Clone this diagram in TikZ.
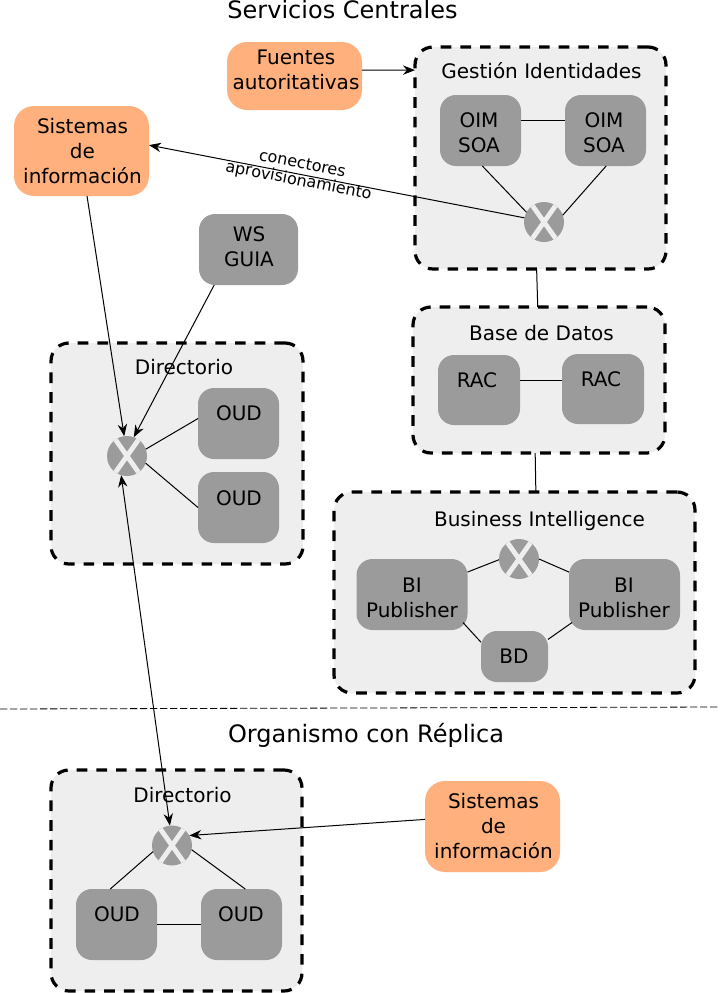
\documentclass[tikz,border=0pt]{standalone}
\usepackage{fontspec}
\setmainfont{DejaVu Sans}
\definecolor{panelfill}{HTML}{EEEEEE}
\definecolor{srvfill}{HTML}{9B9B9B}
\definecolor{srcfill}{HTML}{FFB07C}
\usetikzlibrary{arrows.meta}
\tikzset{
  x=0.75pt,y=-0.75pt,
  panel/.style={draw=black,fill=panelfill,line width=2.4pt,dash pattern=on 8pt off 6.75pt,rounded corners=13.5pt,outer sep=0pt,inner sep=0pt},
  srv/.style={fill=srvfill,rounded corners=12pt,outer sep=0pt,inner sep=0pt},
  src/.style={fill=srcfill,rounded corners=15pt,outer sep=0pt,inner sep=0pt},
  txt/.style={inner sep=0pt,outer sep=0pt,align=center,font=\fontsize{15}{18.75}\selectfont,text=black},
  ttl/.style={inner sep=0pt,outer sep=0pt,font=\fontsize{18}{21}\selectfont,text=black},
  hdr/.style={inner sep=0pt,outer sep=0pt,font=\fontsize{15}{18}\selectfont,text=black},
  small/.style={inner sep=0pt,outer sep=0pt,font=\fontsize{12}{14}\selectfont,text=black,rotate=-11},
  sw/.style={circle,fill=srvfill,minimum size=30pt,inner sep=0pt,outer sep=0pt,
    path picture={
      \draw[panelfill,line width=3.6pt] ([shift={(-12pt,-17pt)}]path picture bounding box.center) -- ([shift={(12pt,17pt)}]path picture bounding box.center);
      \draw[panelfill,line width=3.6pt] ([shift={(12pt,-17pt)}]path picture bounding box.center) -- ([shift={(-12pt,17pt)}]path picture bounding box.center);
    }},
  link/.style={draw=black,line width=0.75pt},
  arr/.style={link,-{Stealth[length=9pt,width=7pt]}},
  darr/.style={link,{Stealth[length=9pt,width=7pt]}-{Stealth[length=9pt,width=7pt]}},
  sep/.style={draw=black,line width=0.6pt,dash pattern=on 5.5pt off 2pt},
}
\begin{document}
\begin{tikzpicture}
\useasboundingbox (0,0) rectangle (720,993);
% panels
\node[panel,minimum width=188.25pt,minimum height=166.5pt] (gest) at (540.5,158) {};
\node[panel,minimum width=189pt,minimum height=109.5pt] (base) at (539,380) {};
\node[panel,minimum width=270.75pt,minimum height=150.75pt] (bi) at (514.5,592.5) {};
\node[panel,minimum width=189pt,minimum height=165.75pt] (dir) at (177,453.5) {};
\node[panel,minimum width=188.25pt,minimum height=165.75pt] (dirb) at (176.5,880.5) {};
% titles
\node[ttl] (t1) at (342.5,10) {Servicios Centrales};
\node[ttl] (t2) at (366,735.5) {Organismo con Réplica};
\node[hdr] (h1) at (541.5,71) {Gestión Identidades};
\node[hdr] (h2) at (541.5,333) {Base de Datos};
\node[hdr] (h3) at (539.5,521) {Business Intelligence};
\node[hdr] (h4) at (184,367) {Directorio};
\node[hdr] (h5) at (182.5,795) {Directorio};
% sources
\node[src,minimum width=101.25pt,minimum height=51pt] (fuentes) at (294.5,76) {};
\node[txt] (fuentest) at (296,70) {Fuentes\\autoritativas};
\node[src,minimum width=101.25pt,minimum height=67.5pt] (sis1) at (81.5,151) {};
\node[txt] (sis1t) at (82.5,151) {Sistemas\\de\\información};
\node[src,minimum width=101.25pt,minimum height=68.25pt] (sis2) at (492.5,826.5) {};
\node[txt] (sis2t) at (493.5,826) {Sistemas\\de\\información};
% servers
\node[srv,minimum width=60.75pt,minimum height=53.25pt] (oim1) at (480.5,130.5) {};
\node[txt] (oim1t) at (479,133) {OIM\\SOA};
\node[srv,minimum width=60.75pt,minimum height=53.25pt] (oim2) at (605.5,130.5) {};
\node[txt] (oim2t) at (604,133) {OIM\\SOA};
\node[srv,minimum width=61.5pt,minimum height=52.5pt] (rac1) at (479,390) {};
\node[txt] (rac1t) at (477,380) {RAC};
\node[srv,minimum width=61.5pt,minimum height=52.5pt] (rac2) at (603,389) {};
\node[txt] (rac2t) at (601,379) {RAC};
\node[srv,minimum width=83.25pt,minimum height=53.25pt] (bip1) at (412,594.5) {};
\node[txt] (bip1t) at (412,598) {BI\\Publisher};
\node[srv,minimum width=83.25pt,minimum height=53.25pt] (bip2) at (624.5,594.5) {};
\node[txt] (bip2t) at (624,598) {BI\\Publisher};
\node[srv,minimum width=50.25pt,minimum height=38.25pt] (bd) at (514.5,656.5) {};
\node[txt] (bdt) at (514,656) {BD};
\node[srv,minimum width=74.25pt,minimum height=53.25pt] (ws) at (248.5,249.5) {};
\node[txt] (wst) at (249,247) {WS\\GUIA};
\node[srv,minimum width=60.75pt,minimum height=53.25pt] (oud1) at (238.5,423.5) {};
\node[txt] (oud1t) at (239,413.5) {OUD};
\node[srv,minimum width=60.75pt,minimum height=53.25pt] (oud2) at (238.5,507.5) {};
\node[txt] (oud2t) at (239,498) {OUD};
\node[srv,minimum width=60.75pt,minimum height=53.25pt] (oud3) at (116.5,924.5) {};
\node[txt] (oud3t) at (117,914.5) {OUD};
\node[srv,minimum width=60.75pt,minimum height=53.25pt] (oud4) at (241.5,924.5) {};
\node[txt] (oud4t) at (241,914.5) {OUD};
% switches
\node[sw] (x1) at (544,222) {};
\node[sw] (x2) at (519,559) {};
\node[sw] (x3) at (127,456) {};
\node[sw] (x4) at (172,845.5) {};
% connectors
\draw[arr] (fuentes.5) -- (gest.145.6);
\draw[arr] (x1.168) -- (sis1.5);
\draw[arr] (sis1.-83) -- (x3.98);
\draw[arr] (ws.226.7) -- (x3.70);
\draw[darr] (x3.253) -- (x4.96);
\draw[arr] (sis2.174.4) -- (x4.30);
\draw[link] (gest.-92.3) -- (base.91.6);
\draw[link] (base.-93) -- (bi.78.5);
\draw[link] (oim1.14.5) -- (oim1.14.5 -| oim2.west);
\draw[link] (oim1.-87.6) -- (x1.151);
\draw[link] (oim2.-89) -- (x1.20);
\draw[link] (rac1.13.7) -- (rac1.13.7 -| rac2.west);
\draw[link] (x3.20) -- (oud1.173.7);
\draw[link] (x3.-21) -- (oud2.180);
\draw[link] (x4.198) -- (oud3.100);
\draw[link] (x4.-12) -- (oud4.84.7);
\draw[link] (oud3.east) -- (oud4.west);
\draw[link] (x2.182) -- (bip1.22.2);
\draw[link] (x2.0) -- (bip2.158);
\draw[link] ([xshift=-3.4pt,yshift=5.6pt]bip1.south east) -- (bd.157.4);
\draw[link] ([xshift=2.25pt,yshift=5.6pt]bip2.south west) -- (bd.27);
% separator
\coordinate (sepl) at (0,709);
\coordinate (sepr) at (718,707);
\draw[sep] (sepl) -- (sepr);
% connector label
\node[small] (c1) at (302.5,163) {conectores};
\node[small] (c2) at (298.5,181) {aprovisionamiento};
\end{tikzpicture}
\end{document}
